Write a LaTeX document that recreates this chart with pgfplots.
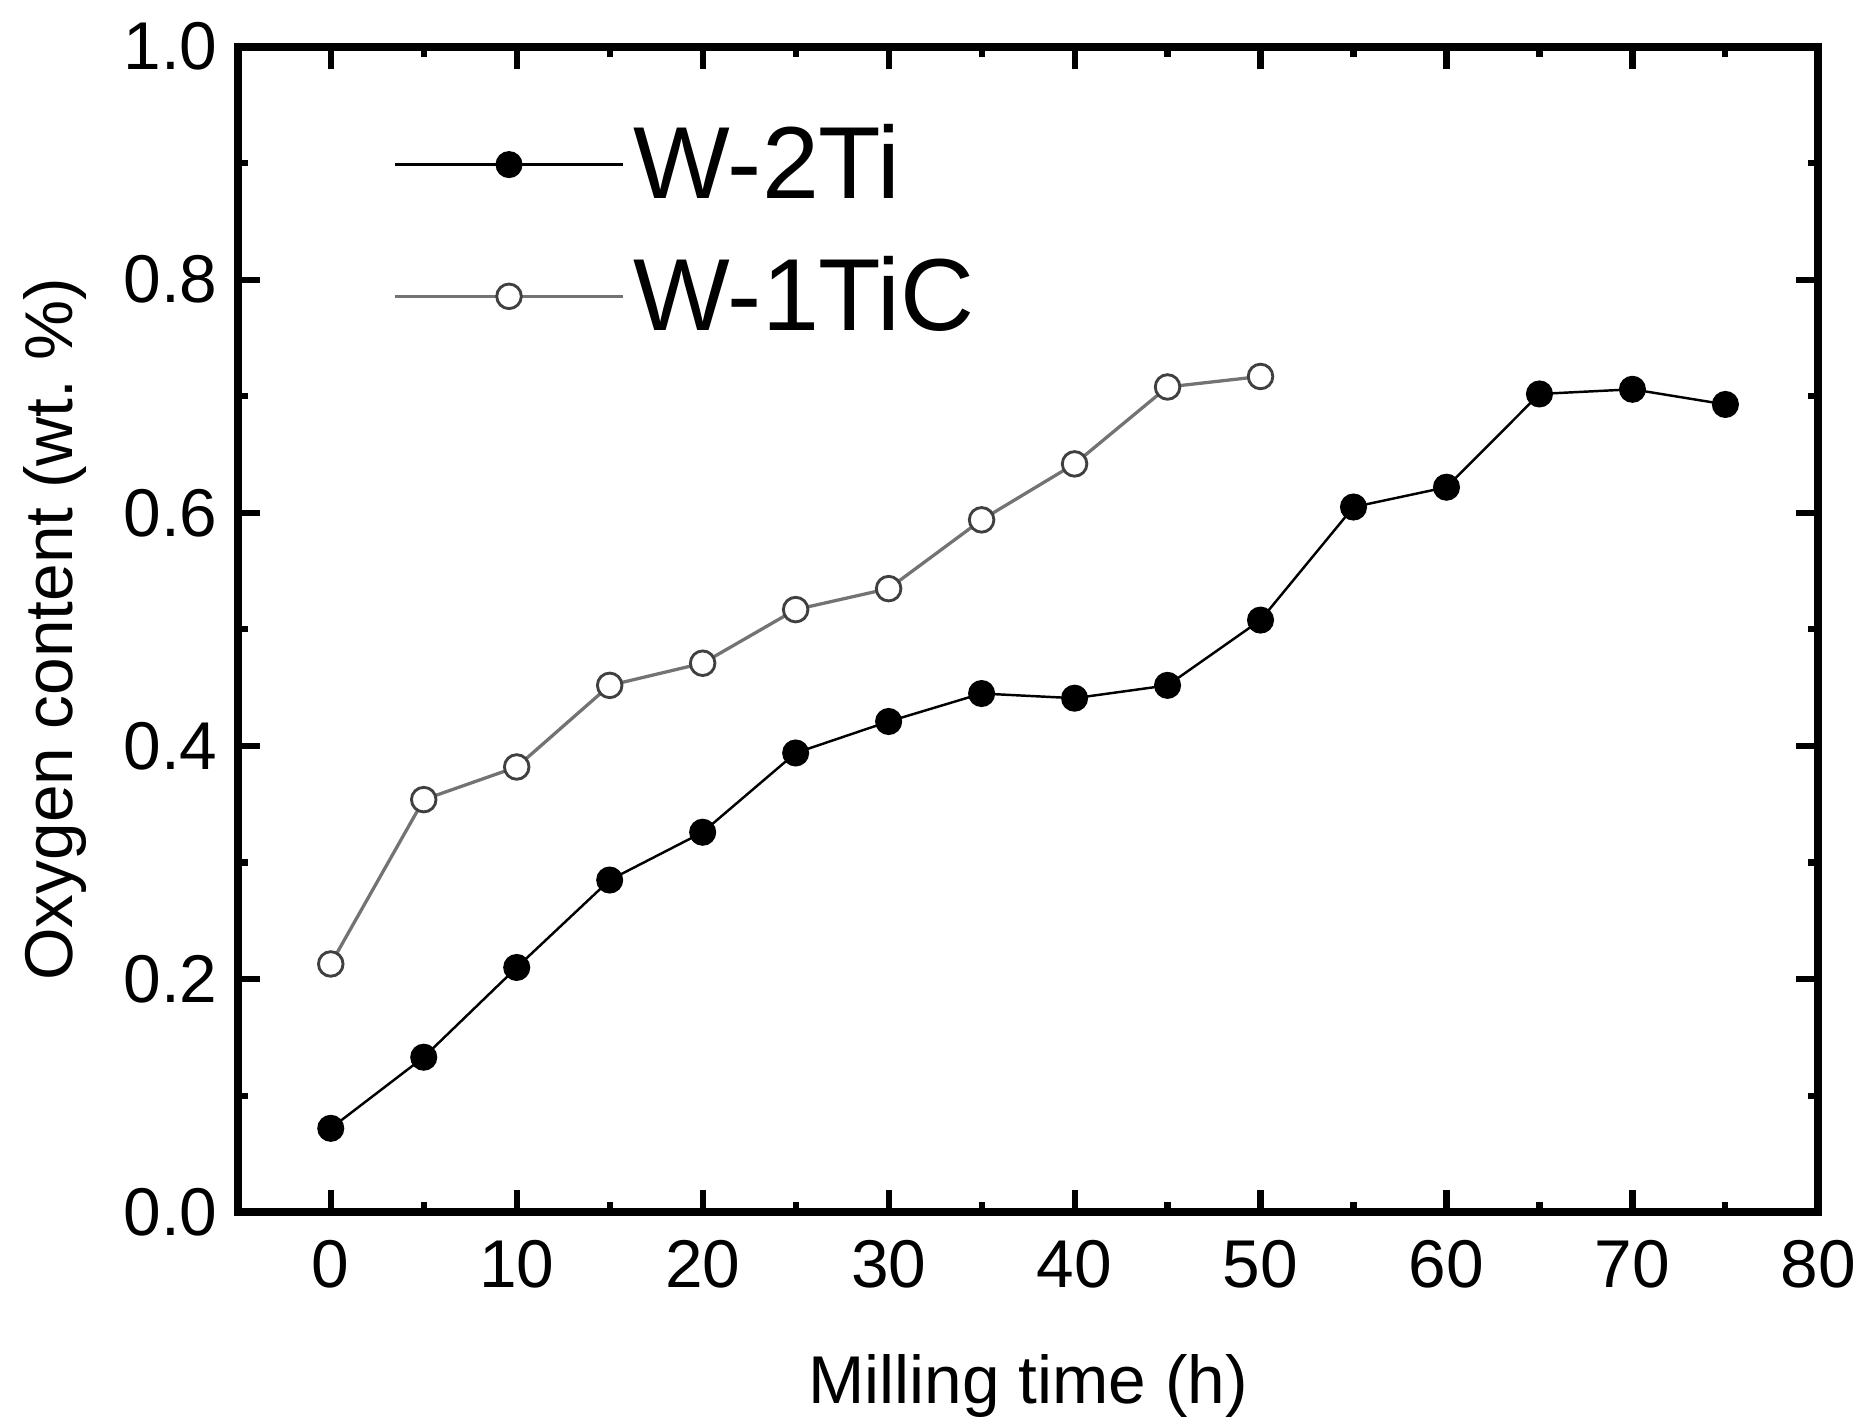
\documentclass[border=0pt]{standalone}
\usepackage{pgfplots}
\pgfplotsset{compat=1.18}
\usepackage{fontspec}
\setmainfont{Liberation Sans}
\begin{document}
\begin{tikzpicture}
\useasboundingbox (0,0) rectangle (16cm,12.19cm);
\begin{axis}[
  at={(2.04cm,1.79cm)}, anchor=south west,
  width=13.56cm, height=10cm, scale only axis,
  xmin=-5, xmax=80, ymin=0, ymax=1.0,
  xtick={0,10,...,80}, ytick={0,0.2,...,1.0},
  minor xtick={5,15,...,75}, minor ytick={0.1,0.3,...,0.9},
  yticklabel style={/pgf/number format/fixed, /pgf/number format/fixed zerofill, /pgf/number format/precision=1, xshift=-0.05cm},
  /pgf/number format/assume math mode=true,
  tick align=inside, tick pos=both,
  major tick length=0.19cm, minor tick length=0.09cm,
  every tick/.style={line width=1.5pt, black},
  axis line style={line width=2pt},
  tick label style={font=\fontsize{16.5}{20}\selectfont},
  xticklabel style={yshift=-0.12cm},
  label style={font=\fontsize{16.5}{20}\selectfont},
  xlabel={Milling time (h)},
  ylabel={Oxygen content (wt.\ \%)},
  xlabel style={at={(axis description cs:0.5,0)}, yshift=-1.1cm},
  ylabel style={yshift=0.08cm},
  legend style={draw=none, fill=none, at={(rel axis cs:0.09,0.948)}, anchor=north west,
    font=\fontsize{25}{30}\selectfont, row sep=0.3cm,
    /tikz/every even column/.append style={column sep=0.4cm}},
  legend cell align=left,
  legend image code/.code={\draw[mark repeat=2,mark phase=2] plot coordinates {(0cm,0cm)(0.98cm,0cm)(1.96cm,0cm)};},
]
\addplot[black, line width=0.6pt, mark=*, mark size=3pt, mark options={fill=black}] coordinates {
(0,0.072)(5,0.133)(10,0.210)(15,0.285)(20,0.326)(25,0.394)(30,0.421)(35,0.445)
(40,0.441)(45,0.452)(50,0.508)(55,0.605)(60,0.622)(65,0.702)(70,0.706)(75,0.693)};
\addlegendentry{W-2Ti}
\addplot[black!55, line width=0.8pt, mark=*, mark size=3pt, mark options={fill=white, draw=black!75, line width=0.7pt}] coordinates {
(0,0.213)(5,0.354)(10,0.382)(15,0.452)(20,0.471)(25,0.517)(30,0.535)(35,0.594)
(40,0.642)(45,0.708)(50,0.717)};
\addlegendentry{W-1TiC}
\end{axis}
\end{tikzpicture}
\end{document}
